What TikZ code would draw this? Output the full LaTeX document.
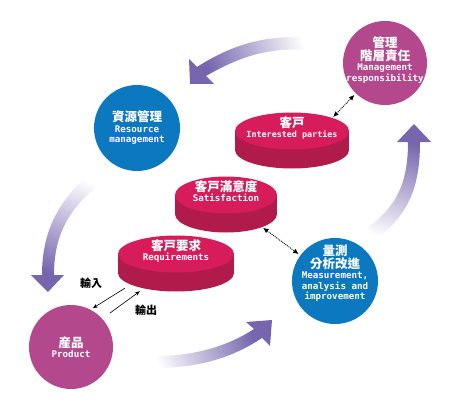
\documentclass[tikz,border=0pt]{standalone}
\usepackage{fontspec}
\setmonofont{DejaVu Sans Mono}
\newfontfamily\cjk{Noto Sans CJK TC}
\usetikzlibrary{arrows.meta, positioning, shapes.geometric}
\definecolor{qmblue}{HTML}{0B78BF}
\definecolor{qmpink}{HTML}{B4488D}
\definecolor{disktopcol}{HTML}{D61C5A}
\definecolor{disksidecol}{HTML}{B11B4C}
\definecolor{arrowpurple}{HTML}{7766AE}
\pgfdeclareverticalshading{arrowfade}{100bp}{color(0bp)=(arrowpurple); color(30bp)=(arrowpurple); color(80bp)=(white); color(100bp)=(white)}
\newcommand{\zh}[1]{{\cjk\bfseries\fontsize{12.5}{14}\selectfont #1}}

\begin{document}
\begin{tikzpicture}[x=1pt, y=-1pt,
  font=\ttfamily\bfseries\fontsize{9.2}{10.5}\selectfont,
  roundnode/.style={circle, inner sep=0pt, minimum size=#1},
  pinkcirc/.style={roundnode=84pt, fill=qmpink},
  bluecirc/.style={roundnode=86pt, fill=qmblue},
  circlabel/.style={text=white, align=center, inner sep=0pt},
  disktop/.style={ellipse, inner sep=0pt, fill=disktopcol, minimum width=#1, minimum height=37pt},
  diskbase/.style={ellipse, inner sep=0pt, fill=disksidecol, minimum width=#1, minimum height=37pt},
  disklabel/.style={text=white, align=center, inner sep=0pt},
  bigarrow/.style={shading=arrowfade, shading angle=#1},
  dotlink/.style={densely dotted, line width=0.9pt, {Latex[length=5.5pt,width=5pt]}-{Latex[length=5.5pt,width=5pt]}, shorten <=1pt, shorten >=2pt},
  iolink/.style={line width=0.6pt, -{Stealth[length=5pt,width=4pt]}},
  iolabel/.style={font=\cjk\bfseries\fontsize{11}{13}\selectfont, inner sep=0pt}
]
  \useasboundingbox (0,0) rectangle (450,404);

  % the four cycle arrows
  \shade[bigarrow=-71] (197,67) .. controls (236,42) and (268,36) .. (305,37) -- (305,50)
    .. controls (272,48) and (244,54) .. (206,76) -- (214,84) -- (190,84) -- (189,59) -- cycle;
  \shade[bigarrow=-21] (42,275) .. controls (42,233) and (57,204) .. (85,178) -- (95,188)
    .. controls (67,212) and (54,237) .. (54,275) -- (64,275) -- (48,292) -- (31,275) -- cycle;
  \shade[bigarrow=109.5] (254,329) .. controls (228,346) and (195,356) .. (155,356) -- (155,368)
    .. controls (198,368) and (232,358) .. (262,338) -- (270,346) -- (272,320) -- (246,322) -- cycle;
  \shade[bigarrow=159] (408,142) .. controls (408,185) and (395,208) .. (367,228) -- (378,238)
    .. controls (408,214) and (420,188) .. (420,142) -- (431,142) -- (414,124) -- (397,142) -- cycle;

  % circles
  \node[pinkcirc] (mgmt) at (385,63) {};
  \node[circlabel] (mgmttext) at ([yshift=3pt]mgmt) {\zh{管理}\\ \zh{階層責任}\\ Management\\ responsibility};
  \node[bluecirc] (resource) at (137,128) {};
  \node[circlabel] (resourcetext) at (resource) {\zh{資源管理}\\ Resource\\ management};
  \node[bluecirc] (measure) at (335,281) {};
  \node[circlabel] (measuretext) at ([yshift=8pt]measure) {\zh{量測}\\ \zh{分析改進}\\ Measurement,\\ analysis and\\ improvement};
  \node[pinkcirc] (product) at (71,347) {};
  \node[circlabel] (producttext) at (product) {\zh{産品}\\ Product};

  % disks
  \node[diskbase=114pt] (ipbase) at (292,150) {};
  \fill[disksidecol] (ipbase.east) rectangle ([yshift=19pt]ipbase.west);
  \node[disktop=114pt] (ip) at (292,131) {};
  \node[disklabel, font=\ttfamily\bfseries\fontsize{8.4}{10}\selectfont] (iptext) at ([yshift=3pt]ip) {\zh{客戸}\\ Interested parties};

  \node[diskbase=102pt] (satbase) at (226,214) {};
  \fill[disksidecol] (satbase.east) rectangle ([yshift=19pt]satbase.west);
  \node[disktop=102pt] (sat) at (226,195) {};
  \node[disklabel] (sattext) at ([yshift=4pt]sat) {\zh{客戸滿意度}\\ Satisfaction};

  \node[diskbase=116pt] (reqbase) at (176,273) {};
  \fill[disksidecol] (reqbase.east) rectangle ([yshift=19pt]reqbase.west);
  \node[disktop=116pt] (req) at (176,254) {};
  \node[disklabel] (reqtext) at ([yshift=3pt]req) {\zh{客戸要求}\\ Requirements};

  % links
  \draw[dotlink] (ip.north east) -- (mgmt);
  \draw[dotlink] (satbase.-20) -- (measure);
  \draw[iolink] ([shift={(-10,2)}]reqbase.south west) -- ([shift={(-8,-9)}]product.north east);
  \draw[iolink] ([shift={(9,-4)}]product.north east) -- ([shift={(5,5)}]reqbase.south west);
  \node[iolabel] (inlabel) at (91,283) {輸入};
  \node[iolabel] (outlabel) at (146,310) {輸出};
\end{tikzpicture}
\end{document}
